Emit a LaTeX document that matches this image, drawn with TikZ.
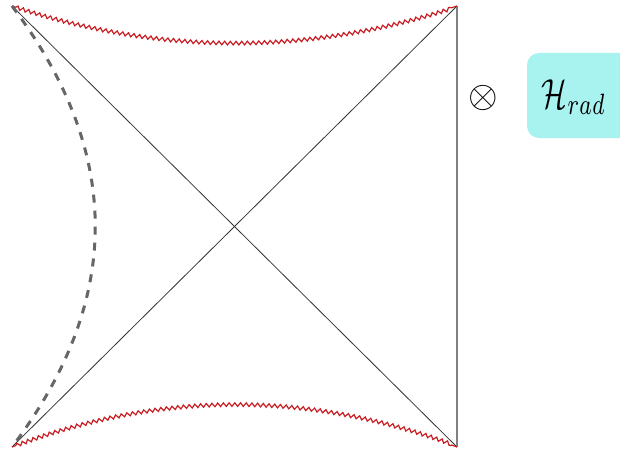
\documentclass[tikz,border=0pt]{standalone}
\usetikzlibrary{decorations.pathmorphing}
\definecolor{radcyan}{RGB}{168,243,240}
\definecolor{singred}{RGB}{200,30,35}

\begin{document}
\begin{tikzpicture}[
  x=1pt, y=-1pt,
  diag/.style={draw=black!80, line width=0.8pt},
  bdry/.style={draw=black!50, line width=1.3pt},
  singular/.style={draw=singred, line width=1.2pt,
                   decorate, decoration={snake, segment length=5.7pt, amplitude=1.8pt,
                   pre length=4pt, post length=4pt}},
  eow/.style={draw=black!60, line width=3pt, dash pattern=on 8pt off 8pt},
  hbox/.style={fill=radcyan, rounded corners=12pt},
]
\clip (0,0) rectangle (620,452);
% corners of the diagram
\coordinate (tl) at (12,6);
\coordinate (tr) at (457,6);
\coordinate (bl) at (12,447);
\coordinate (br) at (457,447);
% horizons and boundary
\draw[diag] (tl) -- (br);
\draw[diag] (bl) -- (tr);
\draw[bdry] (tr) -- (br);
% singularities
\draw[singular] (tl) .. controls (160,55) and (309,55) .. (tr);
\draw[singular] (bl) .. controls (160,391) and (309,391) .. (br);
% end of the world brane
\draw[eow] (tl) .. controls (123,153) and (123,300) .. (bl);
% radiation factor
\node (otimes) at (483,98) {\scalebox{3.8}{$\otimes$}};
\fill[hbox] (527,53) rectangle (640,138);
\node (hrad) at (574,97) {\scalebox{3.0}[4.2]{$\mathcal{H}_{rad}$}};
\end{tikzpicture}
\end{document}
